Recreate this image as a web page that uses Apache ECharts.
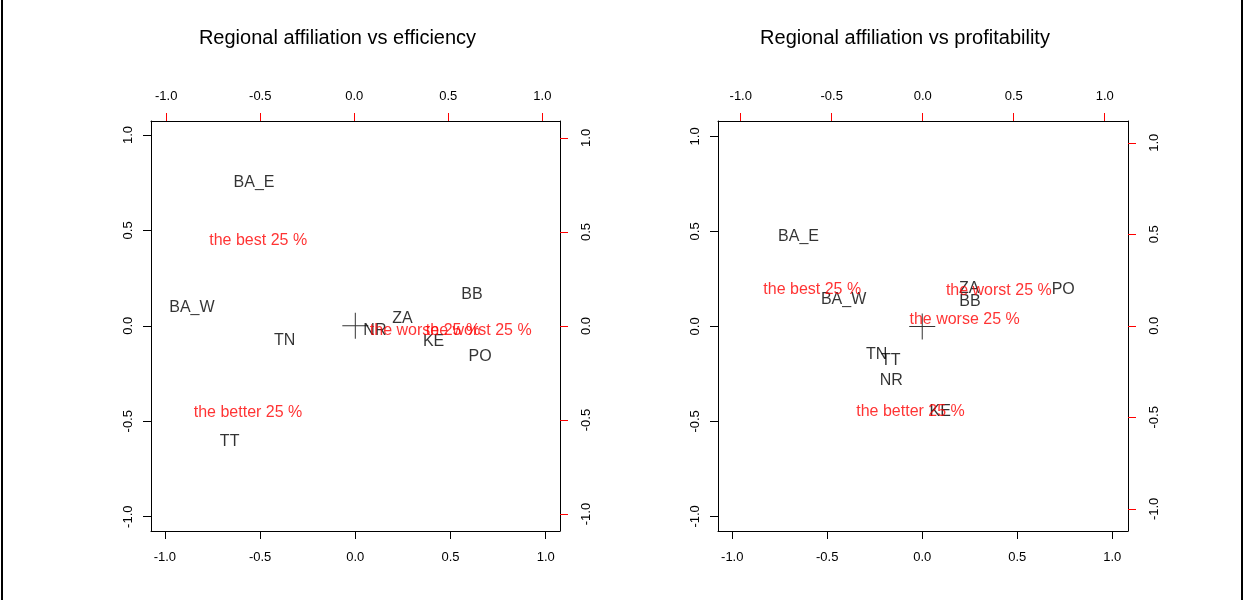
<!DOCTYPE html>
<html>
<head>
<meta charset="utf-8">
<script src="https://cdn.jsdelivr.net/npm/echarts@6/dist/echarts.min.js"></script>
<style>
html,body{margin:0;padding:0;background:#fff;}
#chart{width:1244px;height:600px;}
</style>
</head>
<body>
<div id="chart"></div>
<script>
// ---- data ----
const tickValues = [-1, -0.5, 0, 0.5, 1];
const titles = ['Regional affiliation vs efficiency', 'Regional affiliation vs profitability'];
const rowNames = ['BA_E', 'BA_W', 'TN', 'NR', 'ZA', 'BB', 'KE', 'PO', 'TT'];
const colNames = ['the best 25 %', 'the better 25 %', 'the worse 25 %', 'the worst 25 %'];
const origin = [[0, 0]];

// efficiency plot
const effRowX = [-0.532, -0.858, -0.371, 0.103, 0.248, 0.613, 0.411, 0.655, -0.660];
const effRowY = [0.752, 0.095, -0.079, -0.025, 0.040, 0.162, -0.085, -0.162, -0.607];
const effColX = [-0.511, -0.565, 0.376, 0.662];
const effColY = [0.454, -0.459, -0.024, -0.024];

// profitability plot
const profRowX = [-0.651, -0.414, -0.240, -0.163, 0.247, 0.251, 0.095, 0.742, -0.166];
const profRowY = [0.472, 0.142, -0.151, -0.283, 0.200, 0.133, -0.446, 0.191, -0.181];
const profColX = [-0.607, -0.067, 0.230, 0.418];
const profColY = [0.196, -0.469, 0.036, 0.192];

// ---- chart ----
const FONT = '"Liberation Sans", Arial, sans-serif';
const chart = echarts.init(document.getElementById('chart'), null, {renderer: 'canvas'});

function pts(names, xs, ys) {
  return names.map((n, i) => ({name: n, value: [xs[i], ys[i]]}));
}

// axis ranges (primary, secondary) per panel
const panels = [
  {grid: {left: 151, top: 121, width: 409, height: 410},
   px: [-1.073, 1.075], py: [-1.075, 1.073], sx: [-1.081, 1.094], sy: [-1.090, 1.090],
   title: 337.5},
  {grid: {left: 718, top: 121, width: 410, height: 410},
   px: [-1.075, 1.083], py: [-1.077, 1.081], sx: [-1.125, 1.128], sy: [-1.121, 1.119],
   title: 905}
];

const xAxes = [], yAxes = [], grids = [], series = [], graphics = [];
function axisCommon(range, pos, gi, tickColor, rotate, margin) {
  return {
    type: 'value', gridIndex: gi, position: pos, min: range[0], max: range[1],
    splitLine: {show: false},
    axisLine: {show: true, onZero: false, lineStyle: {color: '#000', width: 1}},
    axisTick: {show: true, length: 8, customValues: tickValues, lineStyle: {color: tickColor, width: 1}},
    axisLabel: {show: true, customValues: tickValues, color: '#000', fontSize: 13, fontFamily: FONT,
      rotate: rotate, margin: margin, formatter: v => v.toFixed(1)}
  };
}

panels.forEach((p, gi) => {
  grids.push(Object.assign({containLabel: false}, p.grid));
  xAxes.push(axisCommon(p.px, 'bottom', gi, '#000', 0, 20));
  xAxes.push(axisCommon(p.sx, 'top', gi, '#ff0000', 0, 18));
  yAxes.push(axisCommon(p.py, 'left', gi, '#000', 90, 16));
  yAxes.push(axisCommon(p.sy, 'right', gi, '#ff0000', 90, 20));
  graphics.push({type: 'text', x: p.title, y: 38,
    style: {text: titles[gi], fill: '#000', font: '20px ' + FONT, textAlign: 'center', textVerticalAlign: 'middle'}});
});

const panelData = [
  {rows: pts(rowNames, effRowX, effRowY), cols: pts(colNames, effColX, effColY)},
  {rows: pts(rowNames, profRowX, profRowY), cols: pts(colNames, profColX, profColY)}
];

panelData.forEach((d, gi) => {
  const labelBase = {show: true, position: 'inside', formatter: '{b}', fontFamily: FONT, fontSize: 16};
  series.push({
    type: 'scatter', xAxisIndex: gi * 2, yAxisIndex: gi * 2, data: d.rows,
    symbolSize: 1, itemStyle: {color: 'rgba(0,0,0,0)'}, silent: true,
    label: Object.assign({color: '#000'}, labelBase), z: 3
  });
  series.push({
    type: 'scatter', xAxisIndex: gi * 2 + 1, yAxisIndex: gi * 2 + 1, data: d.cols,
    symbolSize: 1, itemStyle: {color: 'rgba(0,0,0,0)'}, silent: true,
    label: Object.assign({color: '#ff0000'}, labelBase), z: 4
  });
  series.push({
    type: 'scatter', xAxisIndex: gi * 2, yAxisIndex: gi * 2, data: origin,
    symbol: 'path://M12.5,0h1v26h-1z M0,12.5h26v1h-26z', symbolSize: 26,
    itemStyle: {color: '#000'}, silent: true, z: 2
  });
});

graphics.push({type: 'line', shape: {x1: 2, y1: 0, x2: 2, y2: 600}, style: {stroke: '#000', lineWidth: 2}});
graphics.push({type: 'line', shape: {x1: 1242, y1: 0, x2: 1242, y2: 600}, style: {stroke: '#000', lineWidth: 2}});

chart.setOption({
  backgroundColor: '#fff',
  animation: false,
  grid: grids,
  xAxis: xAxes,
  yAxis: yAxes,
  series: series,
  graphic: graphics
});
</script>
</body>
</html>
